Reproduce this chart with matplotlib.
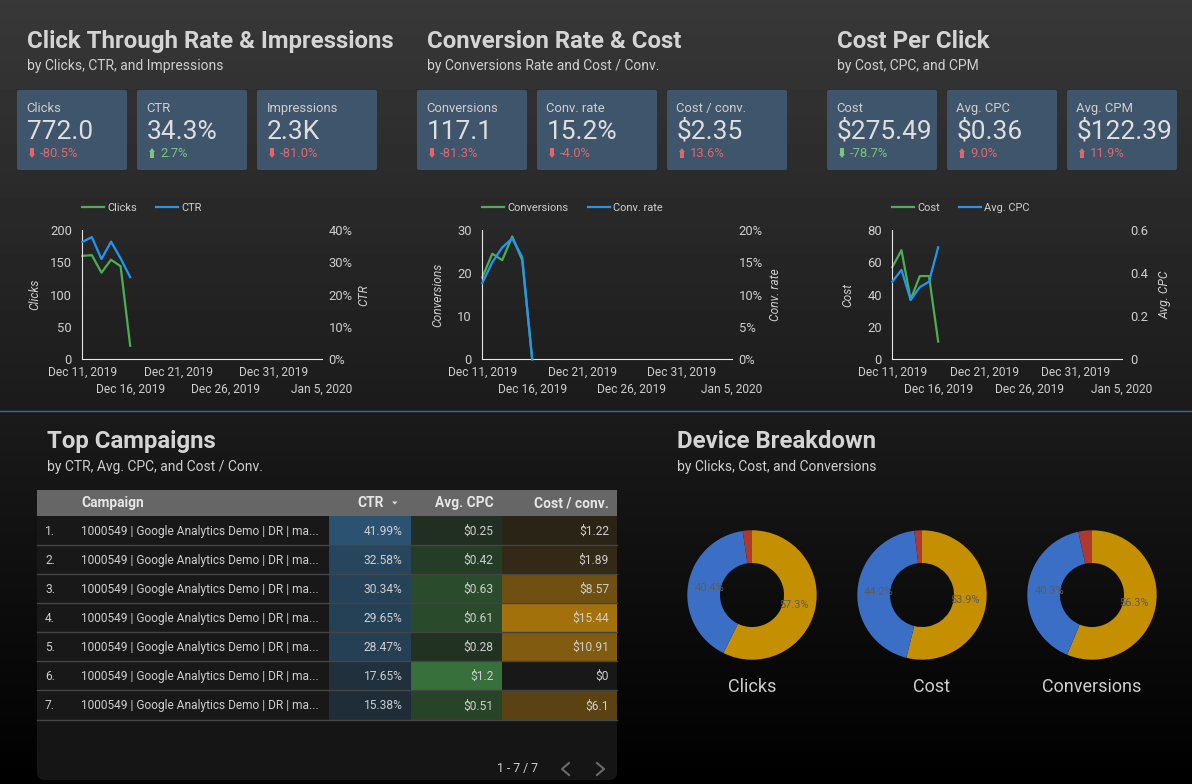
import numpy as np
import pandas as pd
import matplotlib
matplotlib.use('Agg')
from matplotlib import pyplot as plt
from matplotlib.patches import FancyBboxPatch, Rectangle, Polygon
from matplotlib.lines import Line2D

plt.rcParams['font.family'] = ['Roboto', 'DejaVu Sans']

#### Data ####

dates = pd.to_datetime(['2019-12-11', '2019-12-12', '2019-12-13', '2019-12-14', '2019-12-15', '2019-12-16'])
date_ticks = pd.to_datetime(['2019-12-11', '2019-12-16', '2019-12-21', '2019-12-26', '2019-12-31', '2020-01-05'])
date_labels = ['Dec 11, 2019', 'Dec 16, 2019', 'Dec 21, 2019', 'Dec 26, 2019', 'Dec 31, 2019', 'Jan 5, 2020']

clicks = [160, 161, 134, 154, 144, 21]
ctr = [36.3, 37.8, 31.0, 36.4, 31.2, 25.4]
conversions = [19, 24.5, 23, 28.5, 23, 0]
conv_rate = [11.8, 15.0, 17.3, 18.7, 15.8, 0]
cost = [57, 67.5, 37, 51.5, 51.5, 11]
avg_cpc = [0.36, 0.415, 0.275, 0.335, 0.36, 0.52]

card_labels = ['Clicks', 'CTR', 'Impressions', 'Conversions', 'Conv. rate', 'Cost / conv.', 'Cost', 'Avg. CPC', 'Avg. CPM']
card_values = ['772.0', '34.3%', '2.3K', '117.1', '15.2%', '$2.35', '$275.49', '$0.36', '$122.39']
card_deltas = ['-80.5%', '2.7%', '-81.0%', '-81.3%', '-4.0%', '13.6%', '-78.7%', '9.0%', '11.9%']
card_up = [False, True, False, False, False, True, False, True, True]
card_good = [False, True, False, False, False, False, True, False, False]

table_ctr = [41.99, 32.58, 30.34, 29.65, 28.47, 17.65, 15.38]
table_cpc = [0.25, 0.42, 0.63, 0.61, 0.28, 1.2, 0.51]
table_cost = [1.22, 1.89, 8.57, 15.44, 10.91, 0, 6.1]
table_cpc_labels = ['$0.25', '$0.42', '$0.63', '$0.61', '$0.28', '$1.2', '$0.51']
table_cost_labels = ['$1.22', '$1.89', '$8.57', '$15.44', '$10.91', '$0', '$6.1']
campaign = '1000549 | Google Analytics Demo | DR | ma...'

donut_names = ['Clicks', 'Cost', 'Conversions']
donut_clicks = [57.3, 40.4, 2.3]
donut_cost = [53.9, 44.2, 1.9]
donut_conversions = [56.3, 40.3, 3.4]

#### Style ####

W, H = 1192, 784
GREEN = '#4caf50'
BLUE = '#2196f3'
TEXT = '#cfcfcf'
TITLE = '#d4d4d4'
CARD = '#3f556b'
RED = '#e0676c'
UP = '#7cc47f'


def px(n):
    return n * 0.72


fig = plt.figure(figsize=(W / 100, H / 100), dpi=100)

# background layer in pixel coordinates, used for all the page furniture
bg = fig.add_axes([0, 0, 1, 1])
bg.set_xlim(0, W)
bg.set_ylim(H, 0)
bg.axis('off')
grad = np.linspace(0x38, 0, 256).reshape(-1, 1)
bg.imshow(grad, extent=[0, W, H, 0], cmap='gray', vmin=0, vmax=255, aspect='auto', zorder=0)


def label(x, y, s, size, color=TEXT, ha='left', weight='normal'):
    bg.text(x, y, s, fontsize=px(size), color=color, ha=ha, va='center', fontweight=weight)


#### Headers ####

label(27, 41, 'Click Through Rate & Impressions', 24, TITLE, weight='bold')
label(27, 66, 'by Clicks, CTR, and Impressions', 13.9)
label(427, 41, 'Conversion Rate & Cost', 24, TITLE, weight='bold')
label(427, 66, 'by Conversions Rate and Cost / Conv.', 13.9)
label(837, 41, 'Cost Per Click', 24, TITLE, weight='bold')
label(837, 66, 'by Cost, CPC, and CPM', 13.9)
label(47, 441, 'Top Campaigns', 24, TITLE, weight='bold')
label(47, 467, 'by CTR, Avg. CPC, and Cost / Conv.', 13.9)
label(677, 441, 'Device Breakdown', 24, TITLE, weight='bold')
label(677, 467, 'by Clicks, Cost, and Conversions', 13.9)
bg.plot([0, W], [410.5, 410.5], color='#2f6d9e', lw=1, zorder=1)

#### Scorecards ####

card_left = [17, 137, 257, 417, 537, 667, 827, 947, 1067]
card_width = [110, 110, 120, 110, 120, 120, 110, 110, 110]
for i in range(len(card_labels)):
    x = card_left[i]
    bg.add_patch(FancyBboxPatch((x + 2, 92), card_width[i] - 4, 76, boxstyle='round,pad=2',
                                fc=CARD, ec='none', zorder=1))
    label(x + 9.5, 108, card_labels[i], 13)
    label(x + 10, 131.5, card_values[i], 26.3, '#dedede')
    col = UP if card_good[i] else RED
    label(x + 23, 153.5, card_deltas[i], 13, col)
    # little arrow next to the delta
    ax_x = x + 15
    if card_up[i]:
        pts = [(ax_x - 3, 152), (ax_x, 148), (ax_x + 3, 152), (ax_x + 2, 152), (ax_x + 2, 158), (ax_x - 2, 158), (ax_x - 2, 152)]
    else:
        pts = [(ax_x - 3, 154), (ax_x, 158), (ax_x + 3, 154), (ax_x + 2, 154), (ax_x + 2, 148), (ax_x - 2, 148), (ax_x - 2, 154)]
    bg.add_patch(Polygon(pts, fc=col, ec='none', zorder=2))


#### Line charts ####

def line_chart(left, right, y1, y2, name1, name2, lim1, lim2, ticks1, ticks2, labels2, xname1, xname2, pad2):
    top, bottom = 230, 359.3
    ax = fig.add_axes([left / W, 1 - bottom / H, (right - left) / W, (bottom - top) / H])
    ax.patch.set_alpha(0)
    l1, = ax.plot(dates, y1, color=GREEN, lw=1.6, clip_on=False)
    ax.set_xlim(date_ticks[0], date_ticks[-1])
    ax.set_ylim(0, lim1)
    ax.set_yticks(ticks1)
    ax.set_xticks(date_ticks)
    ax.set_xticklabels(date_labels)
    ax.tick_params(axis='y', length=0, pad=7.5, labelsize=px(13), labelcolor=TEXT)
    ax.tick_params(axis='x', length=0, labelsize=px(12), labelcolor=TEXT)
    for i, t in enumerate(ax.xaxis.get_major_ticks()):
        t.set_pad(5 if i % 2 == 0 else 17)
    for s in ['top', 'right']:
        ax.spines[s].set_visible(False)
    for s in ['left', 'bottom']:
        ax.spines[s].set_color('#e6e6e6')
        ax.spines[s].set_linewidth(0.8)
    ax.set_ylabel(name1, fontsize=px(12), color=TEXT, style='italic')
    ax.yaxis.set_label_coords(-xname1 / (right - left), 0.5)

    ax2 = ax.twinx()
    ax2.patch.set_alpha(0)
    l2, = ax2.plot(dates, y2, color=BLUE, lw=1.6, clip_on=False)
    ax2.set_ylim(0, lim2)
    ax2.set_yticks(ticks2)
    ax2.set_yticklabels(labels2)
    ax2.tick_params(axis='y', length=0, pad=pad2, labelsize=px(13), labelcolor=TEXT)
    for s in ax2.spines.values():
        s.set_visible(False)
    ax2.set_ylabel(name2, fontsize=px(12), color=TEXT, style='italic')
    ax2.yaxis.set_label_coords(1 + xname2 / (right - left), 0.5)

    ax2.legend([l1, l2], [name1, name2], loc='center left', bbox_to_anchor=(0, (bottom - 208) / (bottom - top)),
               ncol=2, frameon=False, fontsize=px(11), labelcolor=TEXT, handlelength=2.0, handletextpad=0.27,
               columnspacing=1.75, borderaxespad=0, borderpad=0)
    return ax


line_chart(82.3, 321.7, clicks, ctr, 'Clicks', 'CTR', 200, 40, [0, 50, 100, 150, 200],
           [0, 10, 20, 30, 40], ['0%', '10%', '20%', '30%', '40%'], 41, 36, 5)
line_chart(482.3, 731.7, conversions, conv_rate, 'Conversions', 'Conv. rate', 30, 20, [0, 10, 20, 30],
           [0, 5, 10, 15, 20], ['0%', '5%', '10%', '15%', '20%'], 38, 37, 5)
line_chart(892.3, 1121.7, cost, avg_cpc, 'Cost', 'Avg. CPC', 80, 0.6, [0, 20, 40, 60, 80],
           [0, 0.2, 0.4, 0.6], ['0', '0.2', '0.4', '0.6'], 38, 37, 6.5)

#### Table ####

rows_top = 516
row_h = 29.08
col_edges = [37, 329, 411, 502, 617]
bg.add_patch(FancyBboxPatch((45, 498), 564, 274, boxstyle='round,pad=8', fc='#151515', ec='none', zorder=1))
bg.add_patch(Rectangle((37, 490), 580, 26, fc='#666666', ec='none', zorder=2))
bg.add_patch(Rectangle((37, rows_top), 580, row_h * 7, fc='#181818', ec='none', zorder=2))


def heat(v, vmax, c, power):
    t = (v / vmax) ** power
    base = np.array([0x18, 0x18, 0x18])
    return tuple((base + t * (np.array(c) - base)) / 255)


for i in range(7):
    y = rows_top + i * row_h
    cells = [heat(table_ctr[i], max(table_ctr), (0x2b, 0x52, 0x70), 1.0),
             heat(table_cpc[i], max(table_cpc), (0x37, 0x70, 0x3a), 0.85),
             heat(table_cost[i], max(table_cost), (0xa3, 0x71, 0x0c), 0.8)]
    for j, c in enumerate(cells):
        bg.add_patch(Rectangle((col_edges[j + 1], y), col_edges[j + 2] - col_edges[j + 1], row_h, fc=c, ec='none', zorder=3))
    bg.plot([37, 617], [y + row_h, y + row_h], color='#444444', lw=1, zorder=4)
    yc = y + row_h / 2 + 0.8
    bg.text(45, yc, '%d.' % (i + 1), fontsize=px(12), color=TEXT, va='center', zorder=5)
    bg.text(81, yc, campaign, fontsize=px(11.9), color=TEXT, va='center', zorder=5)
    bg.text(402.5, yc, '%.2f%%' % table_ctr[i], fontsize=px(12), color=TEXT, va='center', ha='right', zorder=5)
    bg.text(493.5, yc, table_cpc_labels[i], fontsize=px(12), color=TEXT, va='center', ha='right', zorder=5)
    bg.text(609, yc, table_cost_labels[i], fontsize=px(12), color=TEXT, va='center', ha='right', zorder=5)

for x, s, ha in [(81, 'Campaign', 'left'), (384, 'CTR', 'right'), (493.5, 'Avg. CPC', 'right'), (609, 'Cost / conv.', 'right')]:
    bg.text(x, 503, s, fontsize=px(13.7), color='#e6e6e6', fontweight='bold', va='center', ha=ha, zorder=5)
bg.add_patch(Polygon([(392, 501.5), (397.5, 501.5), (394.75, 504.5)], fc='#dddddd', ec='none', zorder=5))

bg.text(538, 768.5, '1 - 7 / 7', fontsize=px(12.2), color=TEXT, va='center', ha='right', zorder=5)
bg.add_line(Line2D([569, 562, 569], [763, 769, 775], color='#6a6a6a', lw=1.5, zorder=5))
bg.add_line(Line2D([597, 604, 597], [763, 769, 775], color='#6a6a6a', lw=1.5, zorder=5))

#### Donuts ####

donut_colors = ['#c48f00', '#3b6fc5', '#ae3a2e']
R = 64.7


def show_pct(p):
    return '%.1f%%' % p if p > 5 else ''


for cx, vals in zip([752, 922, 1092], [donut_clicks, donut_cost, donut_conversions]):
    a = fig.add_axes([(cx - R) / W, 1 - (595 + R) / H, 2 * R / W, 2 * R / H])
    _, _, pcts = a.pie(vals, colors=donut_colors, startangle=90, counterclock=False, radius=1,
                       wedgeprops={'width': 0.505, 'linewidth': 0}, autopct=show_pct, pctdistance=0.665,
                       textprops={'fontsize': px(11), 'color': '#5c5c5c'})
    a.set_xlim(-1, 1)
    a.set_ylim(-1, 1)

for x, s in zip([752, 932, 1092], donut_names):
    label(x, 686.5, s, 18, TEXT, ha='center')

fig.savefig('out.png', dpi=100)
